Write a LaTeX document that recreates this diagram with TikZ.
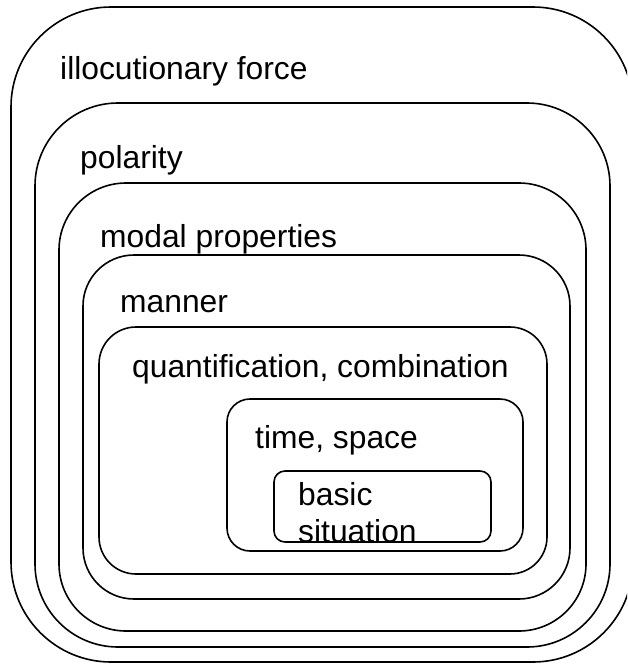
\documentclass[tikz,border=0pt]{standalone}
\usepackage{fontspec}
\setmainfont{Liberation Sans}

\begin{document}
\begin{tikzpicture}[x=1pt,y=-1pt,
        layer/.style={draw,rectangle,line width=1.6pt,inner sep=0pt},
        tag/.style={anchor=base west,inner sep=0pt,font=\fontsize{31.8}{37}\selectfont}]

    \clip (0,0) rectangle (627,664);

    % nested layers, outermost first
    \node[layer,minimum width=622pt,minimum height=655pt,rounded corners=100pt] (illoc) at (322,334.5) {};
    \node[layer,minimum width=575pt,minimum height=544pt,rounded corners=83pt] (polar) at (322.5,375) {};
    \node[layer,minimum width=527pt,minimum height=448pt,rounded corners=67pt] (modal) at (322.5,407) {};
    \node[layer,minimum width=487pt,minimum height=344pt,rounded corners=51pt] (manner) at (326.5,427) {};
    \node[layer,minimum width=448pt,minimum height=247pt,rounded corners=37pt] (quant) at (323,450.5) {};
    \node[layer,minimum width=296pt,minimum height=152pt,rounded corners=23pt] (timespace) at (375,475) {};
    \node[layer,minimum width=217pt,minimum height=71pt,rounded corners=11pt] (basic) at (382.5,506.5) {};

    % labels (base of a two-line tag is its last line)
    \node[tag] (illoclabel) at (60,79) {illocutionary force};
    \node[tag] (polarlabel) at (80,168) {polarity};
    \node[tag] (modallabel) at (100,247) {modal properties};
    \node[tag] (mannerlabel) at (120,312) {manner};
    \node[tag] (quantlabel) at (132,377) {quantification, combination};
    \node[tag] (timespacelabel) at (255,448) {time, space};
    \node[tag,align=left] (basiclabel) at (298,542) {basic\\situation};

\end{tikzpicture}
\end{document}
